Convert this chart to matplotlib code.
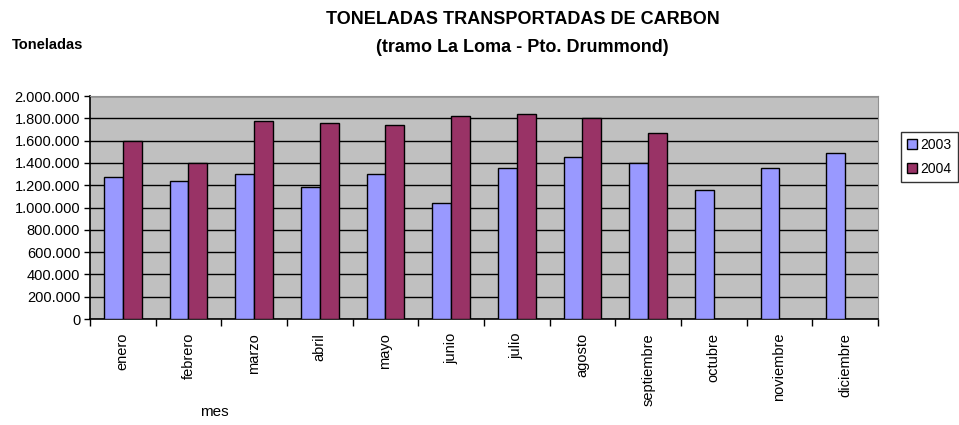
import numpy as np
import matplotlib
matplotlib.use("Agg")
import matplotlib.pyplot as plt
from matplotlib.ticker import FuncFormatter

# datos
meses = ["enero", "febrero", "marzo", "abril", "mayo", "junio", "julio",
         "agosto", "septiembre", "octubre", "noviembre", "diciembre"]
t2003 = [1270000, 1240000, 1300000, 1180000, 1300000, 1040000, 1350000,
         1450000, 1400000, 1160000, 1350000, 1490000]
t2004 = [1600000, 1400000, 1780000, 1760000, 1740000, 1820000, 1840000,
         1800000, 1670000, None, None, None]

plt.rcParams['font.family'] = ['Liberation Sans', 'DejaVu Sans']

fig = plt.figure(figsize=(9.59, 4.25), dpi=100, facecolor='white')
ax = fig.add_axes([0.0938, 0.2494, 0.8217, 0.5247])
ax.set_facecolor('#C0C0C0')

x = np.arange(len(meses))
w = 1 / 3.5
ax.bar(x - w / 2, t2003, w, color='#9999FF', edgecolor='black', linewidth=1.0,
       label='2003', zorder=3)
v04 = [v for v in t2004 if v is not None]
ax.bar(x[:len(v04)] + w / 2, v04, w, color='#993366', edgecolor='black',
       linewidth=1.0, label='2004', zorder=3)

ax.set_xlim(-0.5, len(meses) - 0.5)
ax.set_ylim(0, 2000000)
ax.set_yticks(np.arange(0, 2000001, 200000))
ax.yaxis.set_major_formatter(FuncFormatter(lambda v, p: f"{int(v):,}".replace(",", ".")))
ax.yaxis.grid(True, color='black', linewidth=1.0, zorder=1)
ax.set_axisbelow(True)

# ticks en los limites de categoria, etiquetas al centro
ax.set_xticks(np.arange(-0.5, len(meses)), minor=False)
ax.set_xticklabels([])
ax.set_xticks(x, minor=True)
ax.set_xticklabels(meses, minor=True, rotation=90, fontsize=10.5)
ax.tick_params(axis='x', which='major', direction='out', length=5, width=1, color='black')
ax.tick_params(axis='x', which='minor', length=0, pad=10)
ax.tick_params(axis='y', direction='out', length=4, width=1, labelsize=10.5, pad=3)

for s in ['top', 'right']:
    ax.spines[s].set_color('#909090')
    ax.spines[s].set_linewidth(0.8)
for s in ['left', 'bottom']:
    ax.spines[s].set_color('black')
    ax.spines[s].set_linewidth(1.2)

fig.text(0.545, 0.953, "TONELADAS TRANSPORTADAS DE CARBON", ha='center', va='center',
         fontsize=13, fontweight='bold')
fig.text(0.545, 0.889, "(tramo La Loma - Pto. Drummond)", ha='center', va='center',
         fontsize=13, fontweight='bold')
fig.text(0.012, 0.893, "Toneladas", ha='left', va='center', fontsize=10.5, fontweight='bold')
fig.text(0.224, 0.03, "mes", ha='center', va='center', fontsize=11)

leg = ax.legend(loc='upper left', bbox_to_anchor=(1.029, 0.84), fontsize=10,
                frameon=True, fancybox=False, edgecolor='black', handlelength=0.7,
                handleheight=0.7, handletextpad=0.25, borderpad=0.45,
                borderaxespad=0.0, labelspacing=0.7)
leg.get_frame().set_linewidth(1.0)

fig.savefig("out.png", dpi=100, facecolor='white')
